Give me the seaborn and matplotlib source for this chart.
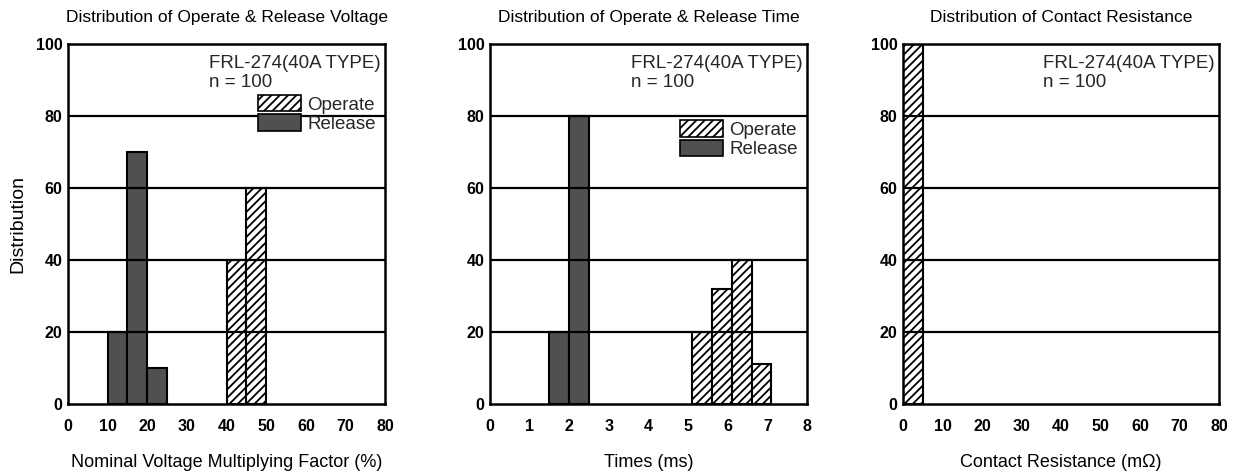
import matplotlib
matplotlib.use("Agg")
import numpy as np
import pandas as pd
import seaborn as sns
from matplotlib import pyplot as plt
from matplotlib.patches import Patch

# Operate & release voltage (% of nominal), bins of 5
volt_release_edges = [10, 15, 20, 25]
volt_release_counts = [20, 70, 10]
volt_operate_edges = [40, 45, 50]
volt_operate_counts = [40, 60]

# Operate & release time (ms)
time_release_edges = [1.5, 2.0, 2.5]
time_release_counts = [20, 80]
time_operate_edges = [5.1, 5.6, 6.1, 6.6, 7.1]
time_operate_counts = [20, 32, 40, 11]

# Contact resistance (mOhm)
res_operate_edges = [0, 5]
res_operate_counts = [100]

titles = ["Distribution of Operate & Release Voltage",
          "Distribution of Operate & Release Time",
          "Distribution of Contact Resistance"]
xlabels = ["Nominal Voltage Multiplying Factor (%)", "Times (ms)",
           "Contact Resistance (m\u03a9)"]
xlims = [(0, 80), (0, 8), (0, 80)]
xticks = [list(range(0, 81, 10)), list(range(0, 9)), list(range(0, 81, 10))]
yticks = [0, 20, 40, 60, 80, 100]

REL_COLOR = "#505050"

sns.set_theme(style="white")
plt.rcParams["font.family"] = ["Liberation Sans", "DejaVu Sans"]
plt.rcParams["hatch.linewidth"] = 1.3


def draw_hist(ax, edges, counts, kind):
    edges = np.array(edges, dtype=float)
    centers = (edges[:-1] + edges[1:]) / 2
    df = pd.DataFrame({"x": centers, "n": counts})
    if kind == "operate":
        style = dict(color="white", hatch="////")
    else:
        style = dict(color=REL_COLOR)
    sns.histplot(data=df, x="x", weights="n", bins=list(edges), ax=ax,
                 alpha=1, edgecolor="black", linewidth=1.5, **style)


fig = plt.figure(figsize=(12.35, 4.75), dpi=100)
lefts = [0.0551, 0.3968, 0.7312]
widths = [0.2567, 0.2567, 0.2559]
axes = [fig.add_axes([l, 0.1495, w, 0.758]) for l, w in zip(lefts, widths)]

draw_hist(axes[0], volt_release_edges, volt_release_counts, "release")
draw_hist(axes[0], volt_operate_edges, volt_operate_counts, "operate")
draw_hist(axes[1], time_release_edges, time_release_counts, "release")
draw_hist(axes[1], time_operate_edges, time_operate_counts, "operate")
draw_hist(axes[2], res_operate_edges, res_operate_counts, "operate")

for i, ax in enumerate(axes):
    ax.set_xlim(*xlims[i])
    ax.set_ylim(0, 100)
    ax.set_xticks(xticks[i])
    ax.set_yticks(yticks)
    for y in [20, 40, 60, 80]:
        ax.axhline(y, color="black", lw=1.6, zorder=3)
    for sp in ax.spines.values():
        sp.set_color("black")
        sp.set_linewidth(1.8)
    ax.tick_params(axis="both", length=0, labelsize=11.5, colors="black")
    ax.tick_params(axis="x", pad=11)
    ax.tick_params(axis="y", pad=4)
    for lab in ax.get_xticklabels() + ax.get_yticklabels():
        lab.set_fontweight("bold")
    ax.set_xlabel(xlabels[i], fontsize=13, labelpad=14, color="black")
    ax.set_ylabel("Distribution" if i == 0 else "", fontsize=14,
                  labelpad=7, color="black")
    ax.set_title(titles[i], fontsize=12.5, pad=16, color="black")
    ax.text(0.985, 0.97, "FRL-274(40A TYPE)\nn = 100", transform=ax.transAxes,
            ha="right", va="top", fontsize=13.5, linespacing=1.2,
            multialignment="left")

handles = [Patch(facecolor="white", edgecolor="black", hatch="////", lw=1.2,
                 label="Operate"),
           Patch(facecolor=REL_COLOR, edgecolor="black", lw=1.2,
                 label="Release")]
leg_kw = dict(frameon=False, fontsize=13.5, handlelength=2.3, handleheight=1.0,
              handletextpad=0.35, labelspacing=0.05, borderaxespad=0.1)
axes[0].legend(handles=handles, loc="upper right",
               bbox_to_anchor=(1.0, 0.885), **leg_kw)
axes[1].legend(handles=handles, loc="upper right",
               bbox_to_anchor=(1.0, 0.815), **leg_kw)

fig.savefig("out.png", dpi=100)
